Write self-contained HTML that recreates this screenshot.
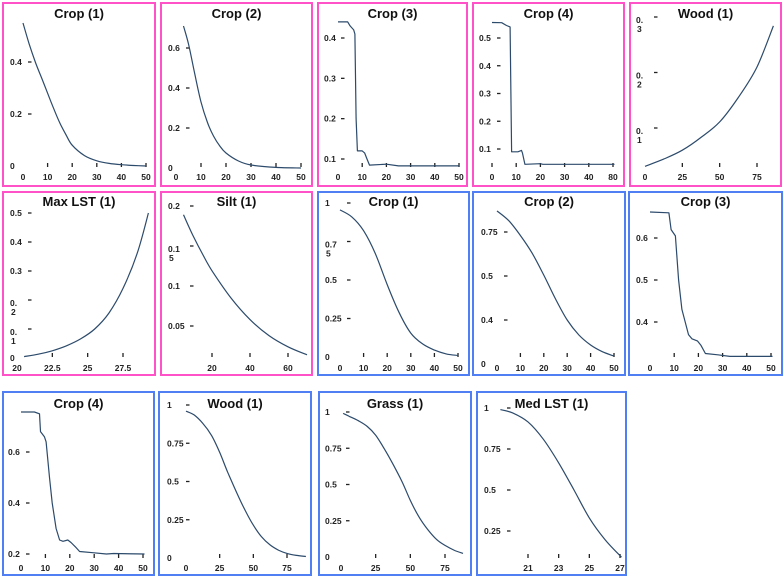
<!DOCTYPE html>
<html><head><meta charset="utf-8"><style>
html,body{margin:0;padding:0;background:#fff;}
svg{display:block;font-family:"Liberation Sans",Arial,sans-serif;}
.tt{font-size:13px;font-weight:bold;fill:#111;text-anchor:middle;}
.tl{font-size:8.5px;font-weight:bold;fill:#222;}
</style></head><body>
<svg id="fig" width="784" height="578" viewBox="0 0 784 578"></svg>
<script>
// ---- data ----
const crop1aX=[0,2.5,5,7.5,10,12.5,15,17.5,20,25,30,35,40,45,50];
const crop1aY=[0.55,0.47,0.4,0.34,0.28,0.22,0.165,0.12,0.08,0.04,0.02,0.01,0.005,0.002,0];
const crop2aX=[3,5,7.5,10,12.5,15,17.5,20,25,30,40,50];
const crop2aY=[0.71,0.62,0.47,0.33,0.23,0.16,0.11,0.075,0.035,0.015,0.003,0];
const crop3aX=[0,4,5,6.5,7,7.5,8,10,11,12,13,20,25,50];
const crop3aY=[0.44,0.44,0.43,0.42,0.41,0.2,0.12,0.12,0.115,0.1,0.085,0.087,0.083,0.083];
const crop4aX=[0,4,6,7.5,8.1,10.7,12.2,12.6,13.6,20,21,25,50.6];
const crop4aY=[0.556,0.555,0.545,0.54,0.09,0.09,0.095,0.085,0.045,0.047,0.045,0.045,0.045];
const wood1aX=[0,12.5,25,37.5,50,62.5,75,86];
const wood1aY=[0.031,0.044,0.06,0.083,0.111,0.155,0.21,0.284];
const maxLstX=[20.5,21.5,22.5,23.5,24.5,25.5,26.5,27.5,28.5,29.3];
const maxLstY=[0.005,0.013,0.025,0.042,0.066,0.1,0.155,0.24,0.36,0.5];
const siltX=[5,10,15,20,30,40,50,60,70];
const siltY=[0.189,0.163,0.14,0.119,0.085,0.058,0.038,0.024,0.014];
const crop1bX=[0,5,10,15,20,25,30,35,40,45,50];
const crop1bY=[0.955,0.91,0.82,0.67,0.47,0.29,0.155,0.085,0.045,0.02,0.01];
const crop2bX=[0,5,10,15,20,25,30,35,40,45,50];
const crop2bY=[0.87,0.815,0.73,0.63,0.505,0.37,0.25,0.165,0.108,0.07,0.045];
const crop3bX=[0,7.8,8.7,10.5,11.8,13.2,15.9,17.3,19.6,21,22.9,28,33,50.6];
const crop3bY=[0.662,0.66,0.62,0.605,0.5,0.43,0.37,0.36,0.355,0.345,0.325,0.322,0.318,0.318];
const crop4bX=[0,5.5,7.6,8,9.6,10.3,11.7,12.8,14.4,15.8,17.2,19.2,20.5,22.6,24,29.4,35,38,50.6];
const crop4bY=[0.757,0.757,0.75,0.68,0.66,0.64,0.5,0.4,0.3,0.255,0.25,0.255,0.245,0.225,0.21,0.205,0.2,0.202,0.2];
const wood1bX=[0,6,12.5,19,25,31,37.5,44,50,56,62.5,69,75,82,89];
const wood1bY=[0.96,0.935,0.88,0.8,0.69,0.56,0.43,0.31,0.215,0.14,0.085,0.05,0.03,0.017,0.01];
const grassX=[1.5,6,12.5,19,25,31,37.5,44,50,56,62.5,69,75,82,88];
const grassY=[0.99,0.97,0.94,0.9,0.84,0.75,0.64,0.52,0.39,0.28,0.19,0.12,0.08,0.045,0.025];
const medLstX=[19.2,20,21,22,23,24,25,26,27.1];
const medLstY=[0.99,0.97,0.915,0.81,0.665,0.5,0.33,0.2,0.09];
// ---- ticks ----
const ticks0to50=[0,10,20,30,40,50];
const labels0to50=["0","10","20","30","40","50"];
const labelsCrop4a=["0","10","20","30","40","80"];
const ticksWood=[0,25,50,75];
const labelsWood=["0","25","50","75"];
const ticksMaxLstX=[20,22.5,25,27.5];
const labelsMaxLstX=["20","22.5","25","27.5"];
const ticksSiltX=[20,40,60];
const labelsSiltX=["20","40","60"];
const ticksMedX=[21,23,25,27];
const labelsMedX=["21","23","25","27"];
const yTicksA=[0,0.2,0.4], yLabelsA=["0","0.2","0.4"];
const yTicksB=[0,0.2,0.4,0.6], yLabelsB=["0","0.2","0.4","0.6"];
const yTicksC=[0.1,0.2,0.3,0.4], yLabelsC=["0.1","0.2","0.3","0.4"];
const yTicksD=[0.1,0.2,0.3,0.4,0.5], yLabelsD=["0.1","0.2","0.3","0.4","0.5"];
const yTicksE=[0.1,0.2,0.3], yLabelsE=["0.|1","0.|2","0.|3"];
const yTicksF=[0,0.1,0.2,0.3,0.4,0.5], yLabelsF=["0","0.|1","0.|2","0.3","0.4","0.5"];
const yTicksG=[0.05,0.1,0.15,0.2], yLabelsG=["0.05","0.1","0.1|5","0.2"];
const yTicksH=[0,0.25,0.5,0.75,1], yLabelsH=["0","0.25","0.5","0.7|5","1"];
const yTicksI=[0,0.25,0.5,0.75], yLabelsI=["0","0.4","0.5","0.75"];
const yTicksJ=[0.4,0.5,0.6], yLabelsJ=["0.4","0.5","0.6"];
const yTicksK=[0.2,0.4,0.6], yLabelsK=["0.2","0.4","0.6"];
const yTicksQ=[0,0.25,0.5,0.75,1], yLabelsQ=["0","0.25","0.5","0.75","1"];
const yTicksN=[0.25,0.5,0.75,1], yLabelsN=["0.25","0.5","0.75","1"];

const PINK="#ff52c8", BLUE="#4f7ff2";
const panels=[
 {n:"crop-1-pink",t:"Crop (1)",b:[2,2,154,185],c:PINK,r:0,xs:[0,23,50,146],ys:[0,166,0.4,62],xt:ticks0to50,xl:labels0to50,yt:yTicksA,yl:yLabelsA,lx:10,dx:28,sf:true,sm:true,X:crop1aX,Y:crop1aY},
 {n:"crop-2-pink",t:"Crop (2)",b:[160,2,153,185],c:PINK,r:0,xs:[0,176,50,301],ys:[0,168,0.6,48],xt:ticks0to50,xl:labels0to50,yt:yTicksB,yl:yLabelsB,lx:168,dx:186,sf:true,sm:true,X:crop2aX,Y:crop2aY},
 {n:"crop-3-pink",t:"Crop (3)",b:[317,2,151,185],c:PINK,r:0,xs:[0,338,50,459],ys:[0.1,159,0.4,38],xt:ticks0to50,xl:labels0to50,yt:yTicksC,yl:yLabelsC,lx:324,dx:341,sf:true,sm:false,X:crop3aX,Y:crop3aY},
 {n:"crop-4-pink",t:"Crop (4)",b:[472,2,153,185],c:PINK,r:0,xs:[0,492,50,613],ys:[0.1,149,0.5,38],xt:ticks0to50,xl:labelsCrop4a,yt:yTicksD,yl:yLabelsD,lx:479,dx:497,sf:false,sm:false,X:crop4aX,Y:crop4aY},
 {n:"wood-1-pink",t:"Wood (1)",b:[629,2,153,185],c:PINK,r:0,xs:[0,645,75,757],ys:[0.1,128,0.3,17],xt:ticksWood,xl:labelsWood,yt:yTicksE,yl:yLabelsE,lx:636,dx:654,sf:true,sm:true,X:wood1aX,Y:wood1aY},
 {n:"max-lst-1-pink",t:"Max LST (1)",b:[2,191,154,185],c:PINK,r:1,xs:[20,17,27.5,123],ys:[0,358,0.5,213],xt:ticksMaxLstX,xl:labelsMaxLstX,yt:yTicksF,yl:yLabelsF,lx:10,dx:28,sf:true,sm:true,X:maxLstX,Y:maxLstY},
 {n:"silt-1-pink",t:"Silt (1)",b:[160,191,153,185],c:PINK,r:1,xs:[20,212,60,288],ys:[0.05,326,0.2,206],xt:ticksSiltX,xl:labelsSiltX,yt:yTicksG,yl:yLabelsG,lx:168,dx:190,sf:false,sm:true,X:siltX,Y:siltY},
 {n:"crop-1-blue",t:"Crop (1)",b:[317,191,153,185],c:BLUE,r:1,xs:[0,340,50,458],ys:[0,357,1,203],xt:ticks0to50,xl:labels0to50,yt:yTicksH,yl:yLabelsH,lx:325,dx:347,sf:true,sm:true,X:crop1bX,Y:crop1bY},
 {n:"crop-2-blue",t:"Crop (2)",b:[472,191,154,185],c:BLUE,r:1,xs:[0,497,50,614],ys:[0,364,0.75,232],xt:ticks0to50,xl:labels0to50,yt:yTicksI,yl:yLabelsI,lx:481,dx:504,sf:true,sm:true,X:crop2bX,Y:crop2bY},
 {n:"crop-3-blue",t:"Crop (3)",b:[628,191,155,185],c:BLUE,r:1,xs:[0,650,50,771],ys:[0.4,322,0.6,238],xt:ticks0to50,xl:labels0to50,yt:yTicksJ,yl:yLabelsJ,lx:636,dx:654,sf:true,sm:false,X:crop3bX,Y:crop3bY},
 {n:"crop-4-blue",t:"Crop (4)",b:[2,391,153,185],c:BLUE,r:2,xs:[0,21,50,143],ys:[0.2,554,0.6,452],xt:ticks0to50,xl:labels0to50,yt:yTicksK,yl:yLabelsK,lx:8,dx:26,sf:true,sm:false,X:crop4bX,Y:crop4bY},
 {n:"wood-1-blue",t:"Wood (1)",b:[158,391,154,185],c:BLUE,r:2,xs:[0,186,75,287],ys:[0,558,1,405],xt:ticksWood,xl:labelsWood,yt:yTicksQ,yl:yLabelsQ,lx:167,dx:186,sf:true,sm:true,X:wood1bX,Y:wood1bY},
 {n:"grass-1-blue",t:"Grass (1)",b:[318,391,154,185],c:BLUE,r:2,xs:[0,341,75,445],ys:[0,557,1,412],xt:ticksWood,xl:labelsWood,yt:yTicksQ,yl:yLabelsQ,lx:325,dx:346,sf:true,sm:true,X:grassX,Y:grassY},
 {n:"med-lst-1-blue",t:"Med LST (1)",b:[476,391,151,185],c:BLUE,r:2,xs:[21,528,27,620],ys:[0,572,1,408],xt:ticksMedX,xl:labelsMedX,yt:yTicksN,yl:yLabelsN,lx:484,dx:507,sf:false,sm:true,X:medLstX,Y:medLstY}
];
const rowTitleY=[18,206,408], rowXLabY=[180,371,571], rowTickY=[163,353,554];
const NS="http://www.w3.org/2000/svg", svg=document.getElementById('fig');
function mk(tag,attrs,parent){const e=document.createElementNS(NS,tag);for(const k in attrs)e.setAttribute(k,attrs[k]);parent.appendChild(e);return e;}
function smoothPath(pts){
  let d='M'+pts[0][0].toFixed(1)+','+pts[0][1].toFixed(1);
  for(let i=0;i<pts.length-1;i++){
    const p0=pts[Math.max(0,i-1)],p1=pts[i],p2=pts[i+1],p3=pts[Math.min(pts.length-1,i+2)];
    const c1=[p1[0]+(p2[0]-p0[0])/6,p1[1]+(p2[1]-p0[1])/6];
    const c2=[p2[0]-(p3[0]-p1[0])/6,p2[1]-(p3[1]-p1[1])/6];
    d+='C'+c1[0].toFixed(1)+','+c1[1].toFixed(1)+' '+c2[0].toFixed(1)+','+c2[1].toFixed(1)+' '+p2[0].toFixed(1)+','+p2[1].toFixed(1);
  }
  return d;
}
panels.forEach(p=>{
  const g=mk('g',{},svg);
  
  
  const sx=v=>p.xs[1]+(v-p.xs[0])*(p.xs[3]-p.xs[1])/(p.xs[2]-p.xs[0]);
  const sy=v=>p.ys[1]+(v-p.ys[0])*(p.ys[3]-p.ys[1])/(p.ys[2]-p.ys[0]);
  const [bx,by,bw,bh]=p.b;
  const fr=mk('rect',{x:bx+1,y:by+1,width:bw-2,height:bh-2,fill:'none',stroke:p.c,'stroke-width':2},g);
  
  
  const tt=mk('text',{x:bx+bw/2,y:rowTitleY[p.r],class:'tt'},g);tt.textContent=p.t;
  
  
  p.yt.forEach((v,i)=>{
    const y=sy(v);
    const parts=p.yl[i].split('|');
    const t=mk('text',{x:p.lx,y:parts.length>1?y+6:y+3,class:'tl'},g);
    
    
    if(parts.length>1){mk('tspan',{x:p.lx},t).textContent=parts[0];mk('tspan',{x:p.lx+1,dy:9},t).textContent=parts[1];}
    else t.textContent=parts[0];
    if(v!==0||p.yl[i]!=="0"){
      const d=mk('line',{x1:p.dx,x2:p.dx+3.5,y1:y,y2:y,stroke:'#222','stroke-width':1.3},g);
      
      
    }
  });
  p.xt.forEach((v,i)=>{
    const x=sx(v);
    const t=mk('text',{x:x,y:rowXLabY[p.r],class:'tl','text-anchor':'middle'},g);t.textContent=p.xl[i];
    
    
    if(!(p.sf&&i===0)){
      const d=mk('line',{x1:x,x2:x,y1:rowTickY[p.r],y2:rowTickY[p.r]+4,stroke:'#222','stroke-width':1.3},g);
      
      
    }
  });
  const pts=p.X.map((v,i)=>[sx(v),sy(p.Y[i])]);
  let dstr;
  if(p.sm) dstr=smoothPath(pts);
  else { dstr=''; pts.forEach((q,i)=>{dstr+=(i?'L':'M')+q[0].toFixed(1)+','+q[1].toFixed(1);}); }
  const ln=mk('path',{d:dstr,fill:'none',stroke:'#2c4a6b','stroke-width':1.2,'stroke-linejoin':'round'},g);
  
  
});
</script>
</body></html>
